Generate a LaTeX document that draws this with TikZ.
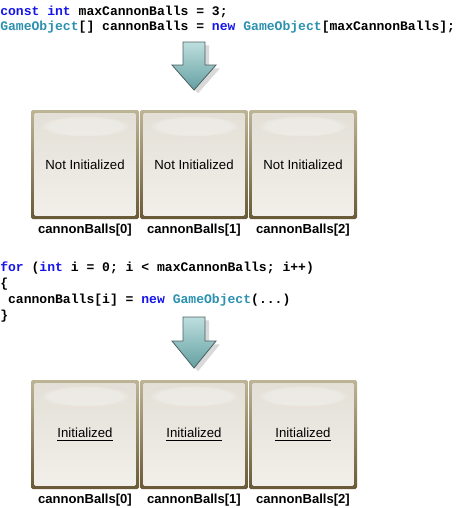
\documentclass[tikz,border=0pt]{standalone}
\usepackage{fontspec}
\setmainfont{Liberation Sans}
\setmonofont{Liberation Mono}
\usetikzlibrary{positioning,shadows,fadings}

\definecolor{kwblue}{RGB}{20,20,235}
\definecolor{clsteal}{RGB}{43,145,175}
\definecolor{cellfill}{RGB}{234,230,221}
\definecolor{edgetop}{RGB}{190,180,150}
\definecolor{edgebot}{RGB}{105,90,55}
\definecolor{arrtop}{RGB}{190,222,222}
\definecolor{arrbot}{RGB}{100,160,162}
\definecolor{arredge}{RGB}{75,95,95}

\newcommand{\kw}[1]{\textcolor{kwblue}{#1}}
\newcommand{\cls}[1]{\textcolor{clsteal}{#1}}

\tikzset{
	code/.style={anchor=base west, inner sep=0pt, font=\ttfamily\bfseries\fontsize{9.8}{12}\selectfont},
	cell/.style={rectangle, minimum width=81pt, minimum height=81.75pt, inner sep=0pt,
		rounded corners=1.2pt, top color=edgetop, bottom color=edgebot,
		font=\fontsize{9.9}{12}\selectfont,
		path picture={
			\shade[top color=cellfill!97!black, bottom color=cellfill!60!white]
				([shift={(2.3pt,-2.3pt)}]path picture bounding box.north west)
				rectangle ([shift={(-2.3pt,2.3pt)}]path picture bounding box.south east);
			\fill[white, opacity=0.3, path fading=circle with fuzzy edge 20 percent]
				([yshift=-12pt]path picture bounding box.north) ellipse (34pt and 8pt);
		}},
	lbl/.style={anchor=base, inner sep=0pt, font=\bfseries\fontsize{9.8}{12}\selectfont},
	downarrow/.style={draw=arredge, line width=0.6pt, top color=arrtop, bottom color=arrbot,
		drop shadow={shadow xshift=3pt, shadow yshift=-2.5pt, opacity=0.3}}
}

\begin{document}
\begin{tikzpicture}[x=0.75pt, y=-0.75pt]
	\useasboundingbox (0,0) rectangle (464,508);

	% declaration
	\node (decl1)[code] at (0,15) {\kw{const} \kw{int} maxCannonBalls = 3;};
	\node (decl2)[code] at (0,30) {\cls{GameObject}[] cannonBalls = \kw{new} \cls{GameObject}[maxCannonBalls];};

	\draw[downarrow] (183,42) -- (205,42) -- (205,65) -- (216,65) -- (194,90) -- (172,65) -- (183,65) -- cycle;

	% empty array
	\foreach \i/\x in {0/85,1/194,2/303} {
		\node (a\i)[cell] at (\x,164.5) {Not Initialized};
		\node (la\i)[lbl] at (\x,233) {cannonBalls[\i]};
	}

	% loop
	\node (loop1)[code] at (0,271) {\kw{for} (\kw{int} i = 0; i < maxCannonBalls; i++)};
	\node (loop2)[code] at (0,287) {\{};
	\node (loop3)[code] at (0,303) {\ cannonBalls[i] = \kw{new} \cls{GameObject}(...)};
	\node (loop4)[code] at (0,319) {\}};

	\draw[downarrow] (183,317) -- (205,317) -- (205,341) -- (216,341) -- (194,368) -- (172,341) -- (183,341) -- cycle;

	% filled array
	\foreach \i/\x in {0/85,1/194,2/303} {
		\node (b\i)[cell] at (\x,434.5) {\underline{Initialized}};
		\node (lb\i)[lbl] at (\x,503) {cannonBalls[\i]};
	}
\end{tikzpicture}
\end{document}
